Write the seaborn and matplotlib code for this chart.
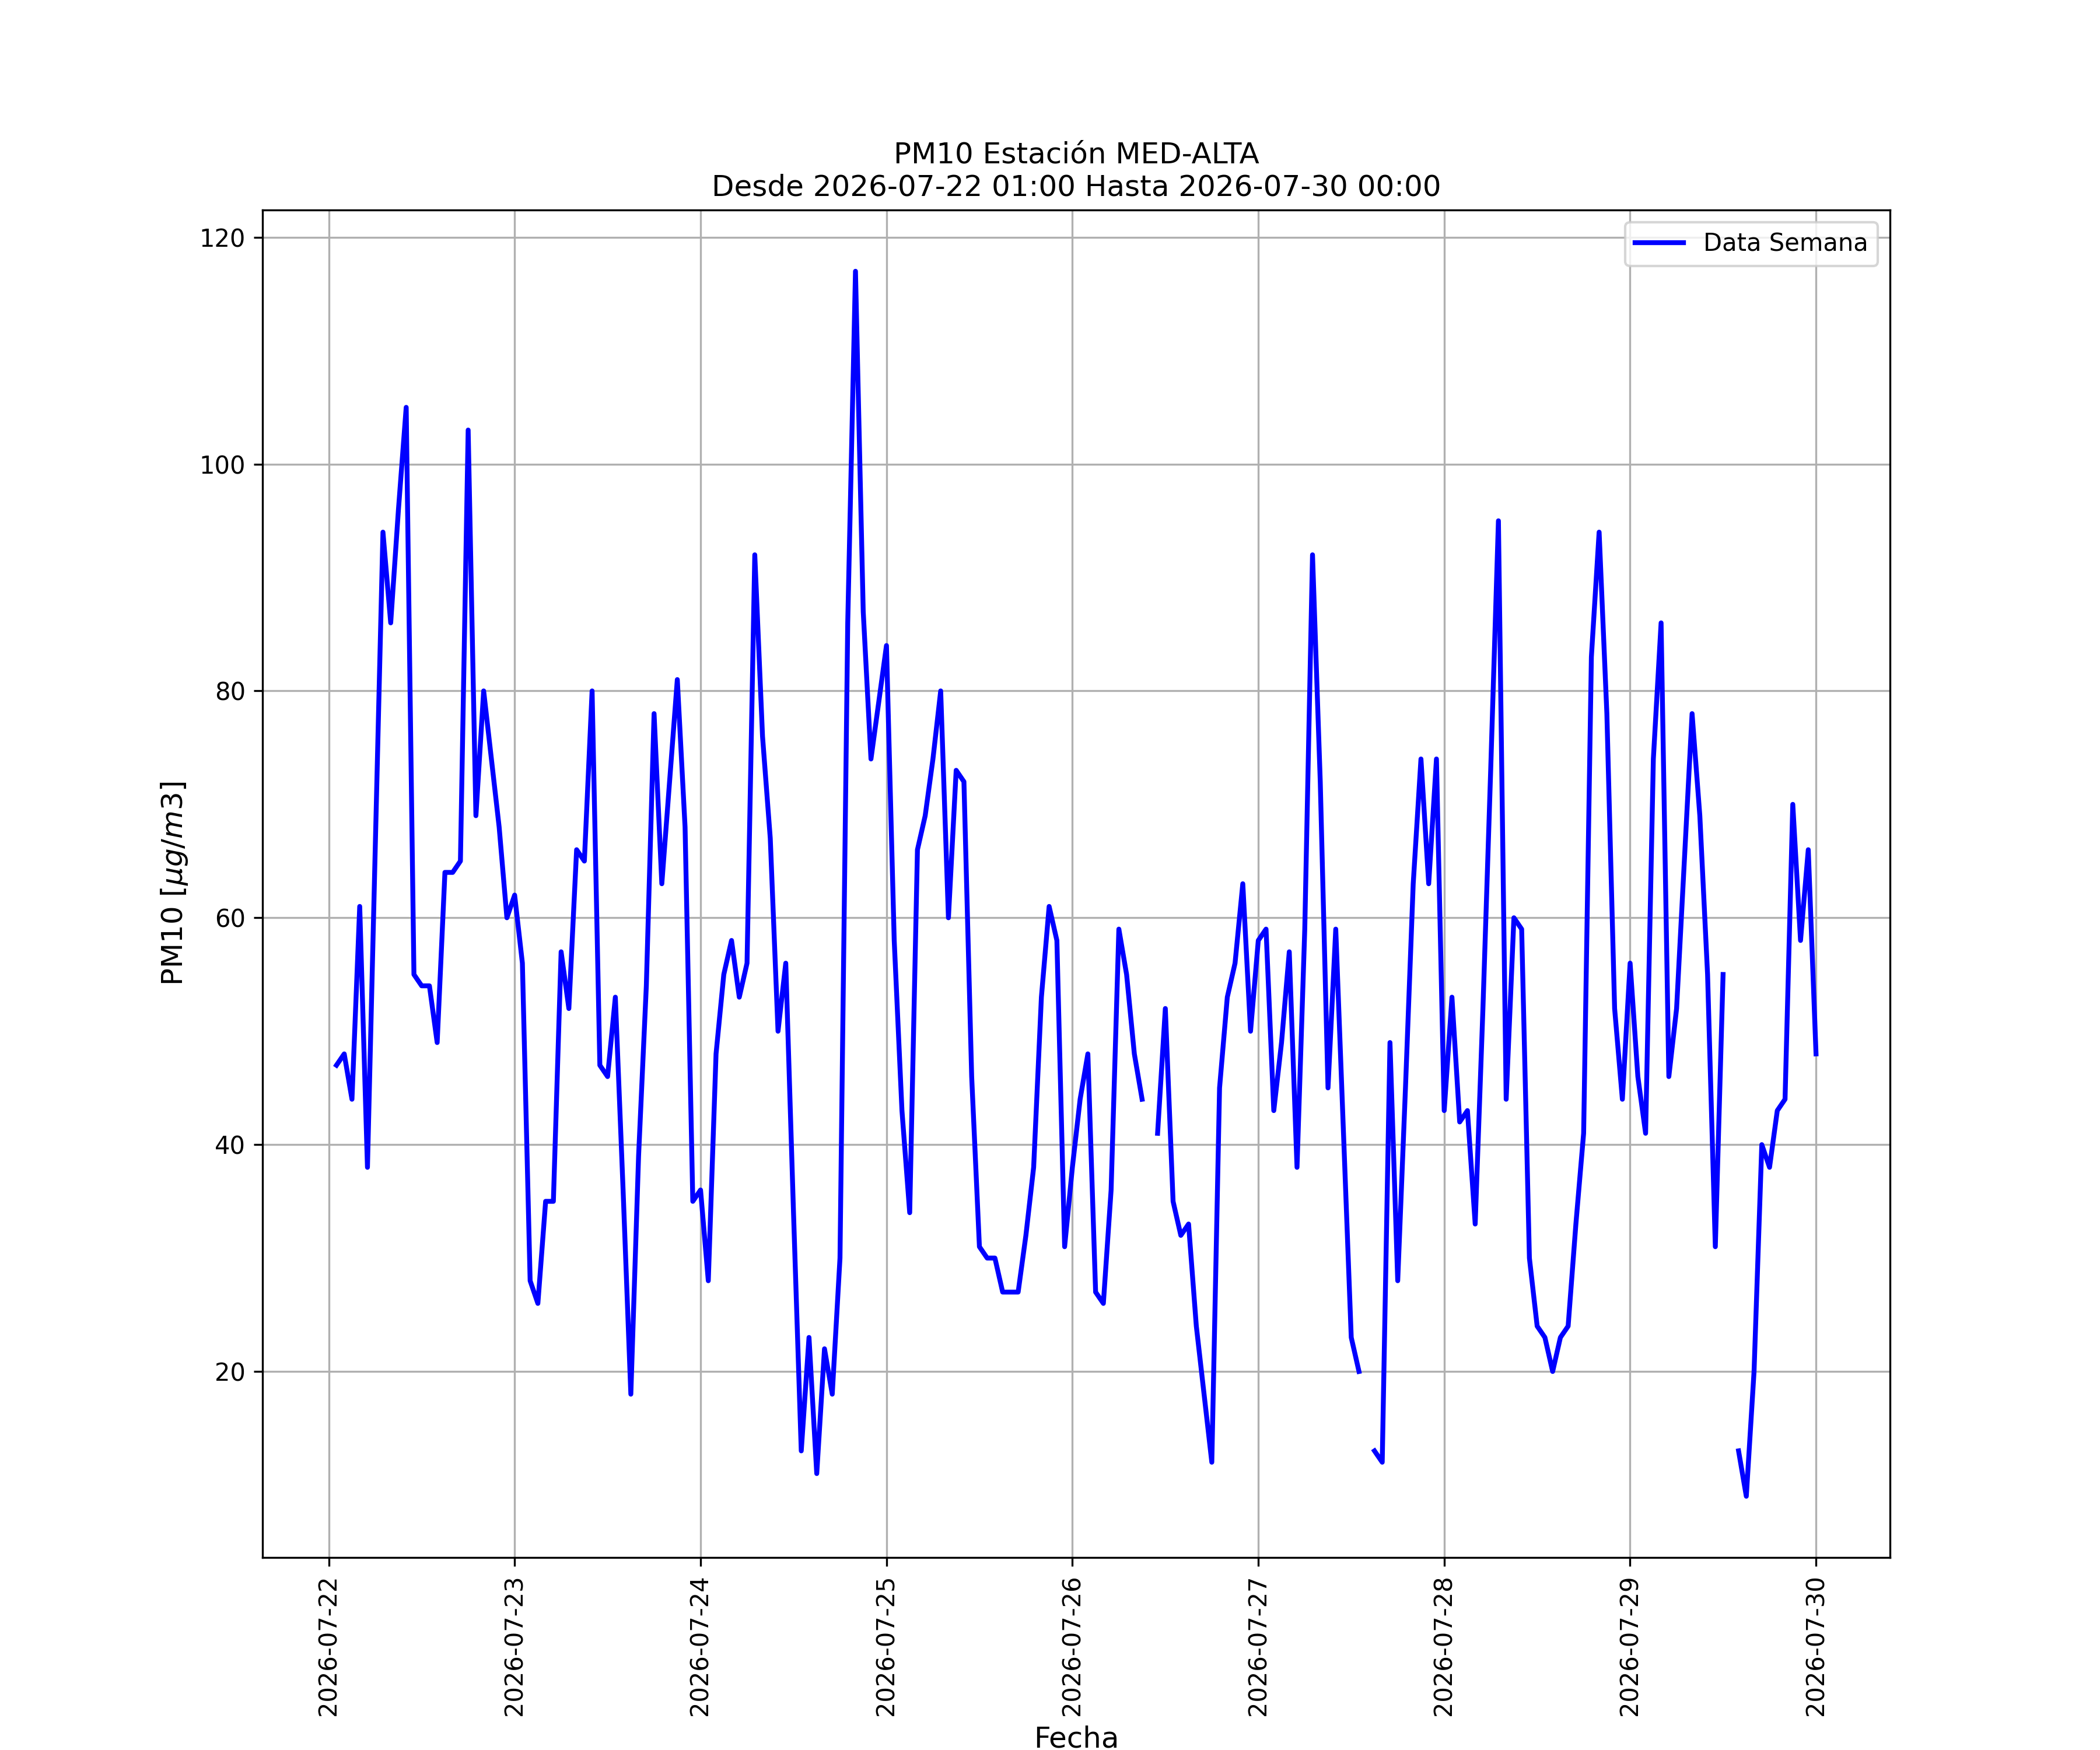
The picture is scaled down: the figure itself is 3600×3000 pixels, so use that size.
# PM10 semanal - estacion MED-ALTA
import numpy as np
import pandas as pd
import matplotlib
matplotlib.use("Agg")
import matplotlib.pyplot as plt
import matplotlib.dates as mdates
import seaborn as sns

# -----------------------------
# Datos horarios (ug/m3), 2026-07-22 01:00 -> 2026-07-30 00:00
# -----------------------------
nan = np.nan
dia_22 = [47, 48, 44, 61, 38, 66, 94, 86, 96, 105, 55, 54, 54, 49, 64, 64, 65, 103, 69, 80, 74, 68, 60, 62]
dia_23 = [56, 28, 26, 35, 35, 57, 52, 66, 65, 80, 47, 46, 53, 36, 18, 39, 54, 78, 63, 72, 81, 68, 35, 36]
dia_24 = [28, 48, 55, 58, 53, 56, 92, 76, 67, 50, 56, 34, 13, 23, 11, 22, 18, 30, 86, 117, 87, 74, 79, 84]
dia_25 = [58, 43, 34, 66, 69, 74, 80, 60, 73, 72, 46, 31, 30, 30, 27, 27, 27, 32, 38, 53, 61, 58, 31, 38]
dia_26 = [44, 48, 27, 26, 36, 59, 55, 48, 44, nan, 41, 52, 35, 32, 33, 24, 18, 12, 45, 53, 56, 63, 50, 58]
dia_27 = [59, 43, 49, 57, 38, 59, 92, 72, 45, 59, 41, 23, 20, nan, 13, 12, 49, 28, 45, 63, 74, 63, 74, 43]
dia_28 = [53, 42, 43, 33, 52, 73, 95, 44, 60, 59, 30, 24, 23, 20, 23, 24, 33, 41, 83, 94, 78, 52, 44, 56]
dia_29 = [46, 41, 74, 86, 46, 52, 65, 78, 69, 55, 31, 55, nan, 13, 9, 20, 40, 38, 43, 44, 70, 58, 66, 48]

estacion = "MED-ALTA"
inicio = "2026-07-22 01:00"
fin = "2026-07-30 00:00"

pm10 = dia_22 + dia_23 + dia_24 + dia_25 + dia_26 + dia_27 + dia_28 + dia_29
fechas = pd.date_range(inicio, fin, freq="h")

df = pd.DataFrame({"fecha": fechas, "pm10": pm10})
# tramo continuo entre huecos (NaN) para que la linea se corte
df["tramo"] = df["pm10"].isna().cumsum()
df = df.dropna()

# -----------------------------
# Grafico
# -----------------------------
fig, ax = plt.subplots(figsize=(12, 10), dpi=300)

for i, (_, tramo) in enumerate(df.groupby("tramo")):
    sns.lineplot(data=tramo, x="fecha", y="pm10", ax=ax, color="blue",
                 linewidth=2, label="Data Semana" if i == 0 else None)

ax.set_title(f"PM10 Estación {estacion}\nDesde {inicio} Hasta {fin}", fontsize=12)
ax.set_xlabel("Fecha", fontsize=12)
ax.set_ylabel(r"PM10 [$\mu g/m3$]", fontsize=12)
ax.xaxis.set_major_locator(mdates.DayLocator())
ax.xaxis.set_major_formatter(mdates.DateFormatter("%Y-%m-%d"))
plt.setp(ax.get_xticklabels(), rotation=90)
ax.grid(True)
ax.legend(loc="upper right")

plt.savefig("out.png", dpi=300)
